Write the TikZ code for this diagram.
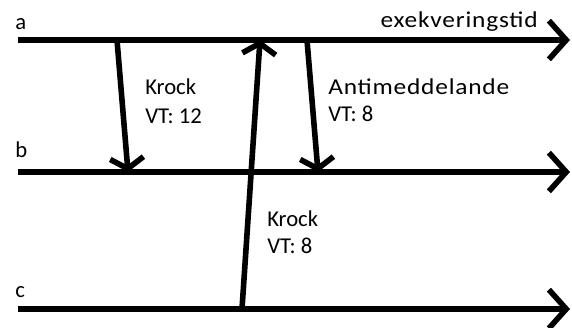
\documentclass[tikz,border=0pt]{standalone}
\usepackage{fontspec}
\setmainfont{Carlito}
\newfontfamily\widefont[FakeStretch=1.12,LetterSpace=3.5]{Carlito}
\usetikzlibrary{arrows.meta}
\begin{document}
\begin{tikzpicture}[x=0.75pt,y=-0.75pt,
  stroke/.style={line width=4.2pt, line cap=butt},
  timeline/.style={stroke, -{Straight Barb[length=13pt,width=29pt,line width=4.2pt]}},
  msg/.style={stroke, -{Straight Barb[length=8pt,width=25pt,line width=4.2pt]}},
  lbl/.style={font=\fontsize{17}{20}\selectfont, inner sep=0pt, anchor=base west},
  widelbl/.style={lbl, font=\widefont\fontsize{17}{20}\selectfont}]
\useasboundingbox (0,0) rectangle (572,328);

% process time lines
\coordinate (a0) at (18,40);  \coordinate (a1) at (570,40);
\coordinate (b0) at (18,172); \coordinate (b1) at (570,172);
\coordinate (c0) at (18,309); \coordinate (c1) at (570,309);
\draw[timeline] (a0) -- (a1);
\draw[timeline] (b0) -- (b1);
\draw[timeline] (c0) -- (c1);

% process names
\node[lbl] (la) at (15,30) {a};
\node[lbl] (lb) at (15,157) {b};
\node[lbl] (lc) at (15,297) {c};
\node[widelbl, anchor=base east] (time) at (538,28) {exekveringstid};

% messages
\coordinate (m1s) at (117,40);  \coordinate (m1e) at (128,172);
\coordinate (m2s) at (307,40);  \coordinate (m2e) at (318,172);
\coordinate (m3s) at (242,309); \coordinate (m3e) at (260,40);
\draw[msg] (m1s) -- (m1e);
\draw[msg] (m2s) -- (m2e);
\draw[msg] (m3s) -- (m3e);

% message labels
\node[lbl] (k1) at (145,95) {Krock};
\node[lbl] (k1v) at (145,123) {VT: 12};
\node[widelbl] (am) at (328,95) {Antimeddelande};
\node[lbl] (amv) at (328,122) {VT: 8};
\node[lbl] (k2) at (267,227) {Krock};
\node[lbl] (k2v) at (267,253) {VT: 8};
\end{tikzpicture}
\end{document}
